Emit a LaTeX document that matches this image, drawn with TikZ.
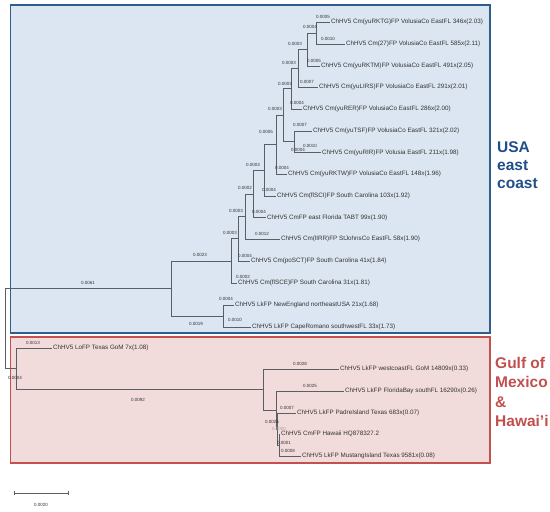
\documentclass[tikz,border=0pt]{standalone}
\usepackage{fontspec}
\setmainfont{Liberation Sans}
\definecolor{bluefill}{HTML}{DCE6F2}
\definecolor{blueline}{HTML}{2F5D8C}
\definecolor{bluetext}{HTML}{1F4E89}
\definecolor{redfill}{HTML}{F2DCDB}
\definecolor{redline}{HTML}{C4504F}
\definecolor{redtext}{HTML}{C0504D}
\definecolor{treec}{HTML}{5A5F66}
\definecolor{tipc}{HTML}{333333}
\definecolor{lblc}{HTML}{333333}
\begin{document}
\begin{tikzpicture}[x=1pt,y=-1pt,
  br/.style={draw=treec, line width=0.8pt},
  tip/.style={anchor=west, inner sep=0.8pt, font=\fontsize{6.3}{7}\selectfont, text=tipc},
  bl/.style={font=\fontsize{4.5}{5}\selectfont, text=lblc, inner sep=0},
  blg/.style={bl, text=gray!70},
  region/.style={line width=1.6pt},
  big/.style={anchor=base west, inner sep=0, align=left, font=\fontsize{15.5}{18}\bfseries}]
\useasboundingbox (0,0) rectangle (550,512);
% regions
\draw[region, draw=blueline, fill=bluefill] (10.5,5) rectangle (490,333);
\draw[region, draw=redline, fill=redfill] (10.5,337) rectangle (490,463);
\node[big, text=bluetext] (usa) at (497,188) {USA\\east\\coast};
\node[big, text=redtext, font=\fontsize{15.5}{19.5}\bfseries] (gulf) at (495,426.5) {Gulf of\\Mexico\\\&\\Hawai’i};
% internal nodes
\coordinate (A) at (316,33);
\coordinate (B) at (307,49.5);
\coordinate (C) at (298,68);
\coordinate (D) at (291,88.5);
\coordinate (F) at (294,141.75);
\coordinate (E) at (283,115.1);
\coordinate (N7) at (276,144.6);
\coordinate (N6) at (264,170.3);
\coordinate (N5) at (253,194);
\coordinate (N4) at (245,216.5);
\coordinate (N3) at (238,238.75);
\coordinate (N2) at (231,260.9);
\coordinate (NE) at (223,316);
\coordinate (N1) at (171,288.4);
\coordinate (GD) at (279,445);
\coordinate (GC) at (277,429);
\coordinate (GB) at (276,410);
\coordinate (GA) at (263,389.5);
\coordinate (G1) at (16,368.75);
\coordinate (R) at (5,328.6);
% tips
\coordinate (t1) at (330,22);
\coordinate (t2) at (345,44);
\coordinate (t3) at (320,66);
\coordinate (t4) at (318,87);
\coordinate (t5) at (302,109);
\coordinate (t6) at (312,131);
\coordinate (t7) at (321,152.5);
\coordinate (t8) at (287,174);
\coordinate (t9) at (276,196);
\coordinate (t10) at (266,217.5);
\coordinate (t11) at (280,239);
\coordinate (t12) at (250,261);
\coordinate (t13) at (237,283);
\coordinate (t14) at (234,305);
\coordinate (t15) at (251,327);
\coordinate (L1) at (52,348);
\coordinate (W) at (339,369);
\coordinate (FB) at (344,391);
\coordinate (PI) at (296,413);
\coordinate (HW) at (280,434);
\coordinate (MI) at (301,456);
\node[tip] (t1l) at (t1) {ChHV5 Cm(yuRKTG)FP VolusiaCo EastFL 346x(2.03)};
\node[tip] (t2l) at (t2) {ChHV5 Cm(27)FP VolusiaCo EastFL 585x(2.11)};
\node[tip] (t3l) at (t3) {ChHV5 Cm(yuRKTM)FP VolusiaCo EastFL 491x(2.05)};
\node[tip] (t4l) at (t4) {ChHV5 Cm(yuLIRS)FP VolusiaCo EastFL 291x(2.01)};
\node[tip] (t5l) at (t5) {ChHV5 Cm(yuRER)FP VolusiaCo EastFL 286x(2.00)};
\node[tip] (t6l) at (t6) {ChHV5 Cm(yuTSF)FP VolusiaCo EastFL 321x(2.02)};
\node[tip] (t7l) at (t7) {ChHV5 Cm(yuRIR)FP Volusia EastFL 211x(1.98)};
\node[tip] (t8l) at (t8) {ChHV5 Cm(yuRKTW)FP VolusiaCo EastFL 148x(1.96)};
\node[tip] (t9l) at (t9) {ChHV5 Cm(flSCI)FP South Carolina 103x(1.92)};
\node[tip] (t10l) at (t10) {ChHV5 CmFP east Florida TABT 99x(1.90)};
\node[tip] (t11l) at (t11) {ChHV5 Cm(lIRR)FP StJohnsCo EastFL 58x(1.90)};
\node[tip] (t12l) at (t12) {ChHV5 Cm(poSCT)FP South Carolina 41x(1.84)};
\node[tip] (t13l) at (t13) {ChHV5 Cm(flSCE)FP South Carolina 31x(1.81)};
\node[tip] (t14l) at (t14) {ChHV5 LkFP NewEngland northeastUSA 21x(1.68)};
\node[tip] (t15l) at (t15) {ChHV5 LkFP CapeRomano southwestFL 33x(1.73)};
\node[tip] (L1l) at (L1) {ChHV5 LoFP Texas GoM 7x(1.08)};
\node[tip] (Wl) at (W) {ChHV5 LkFP westcoastFL GoM 14809x(0.33)};
\node[tip] (FBl) at (FB) {ChHV5 LkFP FloridaBay southFL 16290x(0.26)};
\node[tip] (PIl) at (PI) {ChHV5 LkFP PadreIsland Texas 683x(0.07)};
\node[tip] (HWl) at (HW) {ChHV5 CmFP Hawaii HQ878327.2};
\node[tip] (MIl) at (MI) {ChHV5 LkFP MustangIsland Texas 9581x(0.08)};
% branches
\draw[br] (A) |- (t1); \draw[br] (A) |- (t2);
\draw[br] (B) |- (A); \draw[br] (B) |- (t3);
\draw[br] (C) |- (B); \draw[br] (C) |- (t4);
\draw[br] (D) |- (C); \draw[br] (D) |- (t5);
\draw[br] (F) |- (t6); \draw[br] (F) |- (t7);
\draw[br] (E) |- (D); \draw[br] (E) |- (F);
\draw[br] (N7) |- (E); \draw[br] (N7) |- (t8);
\draw[br] (N6) |- (N7); \draw[br] (N6) |- (t9);
\draw[br] (N5) |- (N6); \draw[br] (N5) |- (t10);
\draw[br] (N4) |- (N5); \draw[br] (N4) |- (t11);
\draw[br] (N3) |- (N4); \draw[br] (N3) |- (t12);
\draw[br] (N2) |- (N3); \draw[br] (N2) |- (t13);
\draw[br] (NE) |- (t14); \draw[br] (NE) |- (t15);
\draw[br] (N1) |- (N2); \draw[br] (N1) |- (NE);
\draw[br] (R) |- (N1); \draw[br] (R) |- (G1);
\draw[br] (G1) |- (L1); \draw[br] (G1) |- (GA);
\draw[br] (GA) |- (W); \draw[br] (GA) |- (GB);
\draw[br] (GB) |- (FB); \draw[br] (GB) |- (GC);
\draw[br] (GC) |- (PI); \draw[br] (GC) |- (GD);
\draw[br] (GD) |- (HW); \draw[br] (GD) |- (MI);
% branch labels
\node[bl] (l1) at (323,17) {0.0005};
\node[bl] (l2) at (310,27) {0.0004};
\node[bl] (l3) at (328,39) {0.0010};
\node[bl] (l4) at (295,44) {0.0003};
\node[bl] (l5) at (314,61) {0.0005};
\node[bl] (l6) at (289,63) {0.0003};
\node[bl] (l7) at (307,82) {0.0007};
\node[bl] (l8) at (285,84) {0.0003};
\node[bl] (l9) at (297,103) {0.0004};
\node[bl] (l10) at (275,109) {0.0003};
\node[bl] (l11) at (300,125) {0.0007};
\node[bl] (l12) at (266,132) {0.0005};
\node[bl] (l13) at (310,146) {0.0010};
\node[bl] (l14) at (298,150) {0.0004};
\node[bl] (l15) at (253,165) {0.0003};
\node[bl] (l16) at (282,168) {0.0004};
\node[bl] (l17) at (245,188) {0.0002};
\node[bl] (l18) at (269,190) {0.0004};
\node[bl] (l19) at (236,211) {0.0003};
\node[bl] (l20) at (259,212) {0.0004};
\node[bl] (l21) at (230,233) {0.0003};
\node[bl] (l22) at (262,234) {0.0012};
\node[bl] (l23) at (200,255) {0.0023};
\node[bl] (l24) at (245,256) {0.0004};
\node[bl] (l25) at (243,277) {0.0002};
\node[bl] (l26) at (88,283) {0.0061};
\node[bl] (l27) at (226,299) {0.0004};
\node[bl] (l28) at (196,324) {0.0019};
\node[bl] (l29) at (235,320) {0.0010};
\node[bl] (l30) at (33,343) {0.0013};
\node[bl] (l31) at (15,378) {0.0004};
\node[bl] (l32) at (138,400) {0.0092};
\node[bl] (l33) at (300,364) {0.0028};
\node[bl] (l34) at (310,386) {0.0025};
\node[bl] (l35) at (272,422) {0.0025};
\node[blg] (l36) at (279,429) {0.0000};
\node[bl] (l37) at (287,408) {0.0007};
\node[bl] (l38) at (284,443) {0.0001};
\node[bl] (l39) at (288,451) {0.0008};
% scale bar
\coordinate (sb1) at (14,493);
\coordinate (sb2) at (68,493);
\draw[br] (sb1) -- (sb2);
\draw[br] ([yshift=-2pt]sb1) -- ([yshift=2pt]sb1);
\draw[br] ([yshift=-2pt]sb2) -- ([yshift=2pt]sb2);
\node[bl] (sbl) at (41,505) {0.0020};
\end{tikzpicture}
\end{document}
